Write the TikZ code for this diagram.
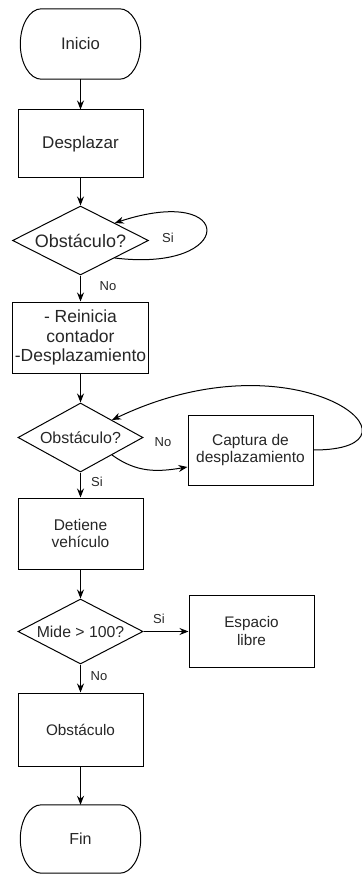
\documentclass[tikz,border=0pt]{standalone}
\usepackage{fontspec}
\setmainfont{Liberation Sans}
\usetikzlibrary{shapes.geometric,arrows.meta}
\newcommand{\drawterm}[1]{%
  \draw[line width=1pt] ([xshift=-21pt]#1.north east) .. controls +(11.6,0) and +(0,-19.3) .. (#1.east)
    .. controls +(0,19.3) and +(11.6,0) .. ([xshift=-21pt]#1.south east)
    -- ([xshift=21pt]#1.south west) .. controls +(-11.6,0) and +(0,19.3) .. (#1.west)
    .. controls +(0,-19.3) and +(-11.6,0) .. ([xshift=21pt]#1.north west) -- cycle;}
\begin{document}
\begin{tikzpicture}[x=1pt,y=-1pt,
 every node/.style={text=black!85},
 box/.style={draw, line width=1pt, rectangle, inner sep=0pt, align=center},
 term/.style={rectangle, inner sep=0pt, minimum width=120pt, minimum height=70pt},
 dec/.style={draw, line width=1pt, diamond, inner sep=0pt},
 arr/.style={draw, line width=1pt, -{Stealth[length=9pt,width=7pt]}},
 lbl/.style={font=\fontsize{13}{15}\selectfont, inner sep=0pt}]
\useasboundingbox (0,0) rectangle (361,874);

\node[term, font=\fontsize{16.7}{19}\selectfont] (ini) at (80.5,44) {Inicio};
\drawterm{ini}
\node[box, minimum width=125pt, minimum height=68pt, font=\fontsize{17}{20}\selectfont] (des) at (80.5,144) {Desplazar};
\node[dec, aspect=1.97, minimum width=136pt, minimum height=69pt, font=\fontsize{18}{20}\selectfont] (d1) at (80.5,240.5) {Obstáculo?};
\node[box, minimum width=136pt, minimum height=71pt, font=\fontsize{17.5}{19.5}\selectfont] (rei) at (80.5,337.5) {- Reinicia\\contador\\-Desplazamiento};
\node[dec, aspect=1.81, minimum width=125pt, minimum height=69pt, font=\fontsize{16}{18}\selectfont] (d2) at (80.5,437.5) {Obstáculo?};
\node[box, minimum width=125pt, minimum height=70pt, font=\fontsize{15.5}{17}\selectfont] (cap) at (250.5,450) {Captura de\\desplazamiento};
\node[box, minimum width=125pt, minimum height=71pt, font=\fontsize{15.5}{17}\selectfont] (det) at (80.5,533.5) {Detiene\\vehículo};
\node[dec, aspect=1.92, minimum width=125pt, minimum height=65pt, font=\fontsize{15.8}{18}\selectfont] (d3) at (80.5,631.5) {Mide > 100?};
\node[box, minimum width=125pt, minimum height=72pt, font=\fontsize{15.3}{18}\selectfont] (esp) at (251.5,631.5) {Espacio\\libre};
\node[box, minimum width=125pt, minimum height=73pt, font=\fontsize{15.3}{18}\selectfont] (obs) at (80.5,729.5) {Obstáculo};
\node[term, minimum height=68pt, font=\fontsize{16}{19}\selectfont] (fin) at (80.5,839) {Fin};
\drawterm{fin}

\draw[arr] (ini.south) -- (des.north);
\draw[arr] (des.south) -- (d1.north);
\draw[arr] (d1.south) -- (rei.north);
\draw[arr] (rei.south) -- (d2.north);
\draw[arr] (d2.south) -- (det.north);
\draw[arr] (det.south) -- (d3.north);
\draw[arr] (d3.east) -- (esp.west);
\draw[arr] (d3.south) -- (obs.north);
\draw[arr] (obs.south) -- (fin.north);

\draw[arr] (d1.south east) .. controls +(122,15) and +(122,-40) .. (d1.north east);
\draw[arr] (d2.south east) .. controls +(25,18) and +(-30,5) .. ([yshift=-17pt]cap.west);
\draw[arr] (cap.east) .. controls +(127,0) and +(188,-90) .. (d2.north east);

\node[lbl] (l1) at (168,238) {Si};
\node[lbl] (l2) at (108,286) {No};
\node[lbl] (l3) at (163,442) {No};
\node[lbl] (l4) at (97,482) {Si};
\node[lbl] (l5) at (159,619) {Si};
\node[lbl] (l6) at (99,676) {No};
\end{tikzpicture}
\end{document}
